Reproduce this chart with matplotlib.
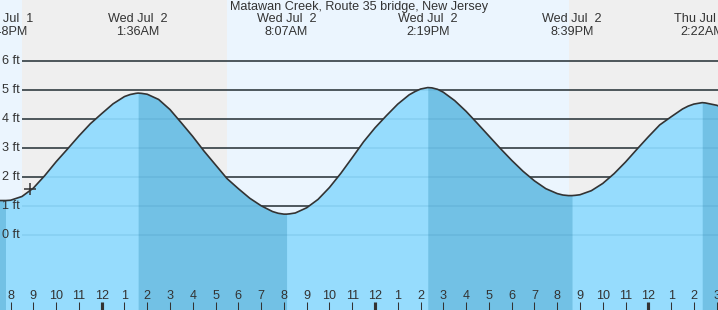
import matplotlib
matplotlib.use('Agg')
import matplotlib.pyplot as plt
import numpy as np

# hours from midnight Wed Jul 2, tide height in feet
hours = [-4.5, -4.2, -4.0, -3.5, -3.0, -2.5, -2.0, -1.5, -1.0, -0.5, 0.0, 0.5, 1.0, 1.25, 1.5, 1.6,
         1.75, 2.0, 2.5, 3.0, 3.5, 4.0, 4.5, 5.0, 5.5, 6.0, 6.5, 7.0, 7.5, 7.75, 8.0, 8.117,
         8.25, 8.5, 9.0, 9.5, 10.0, 10.5, 11.0, 11.5, 12.0, 12.5, 13.0, 13.5, 13.75, 14.0, 14.317,
         14.5, 14.75, 15.0, 15.5, 16.0, 16.5, 17.0, 17.5, 18.0, 18.5, 19.0, 19.5, 20.0, 20.25, 20.5, 20.65,
         20.8, 21.0, 21.5, 22.0, 22.5, 23.0, 23.5, 24.0, 24.5, 25.0, 25.5, 25.75, 26.0, 26.367,
         26.5, 27.0, 27.1]
height = [1.19, 1.19, 1.20, 1.33, 1.62, 2.05, 2.53, 2.97, 3.42, 3.84, 4.19, 4.53, 4.78, 4.85, 4.89, 4.90,
          4.89, 4.86, 4.68, 4.33, 3.87, 3.40, 2.89, 2.42, 1.95, 1.60, 1.27, 1.01, 0.81, 0.75, 0.72, 0.72,
          0.73, 0.76, 0.94, 1.23, 1.64, 2.13, 2.67, 3.22, 3.70, 4.12, 4.52, 4.84, 4.95, 5.04, 5.09,
          5.08, 5.03, 4.93, 4.64, 4.27, 3.85, 3.42, 2.99, 2.58, 2.20, 1.87, 1.60, 1.43, 1.38, 1.36, 1.36,
          1.37, 1.39, 1.53, 1.78, 2.12, 2.52, 2.96, 3.39, 3.80, 4.08, 4.35, 4.45, 4.52, 4.57,
          4.56, 4.48, 4.45]

# high / low tides
ext_hours = [-4.2, 1.6, 8.117, 14.317, 20.65, 26.367]
ext_days = ['Tue Jul  1', 'Wed Jul  2', 'Wed Jul  2', 'Wed Jul  2', 'Wed Jul  2', 'Thu Jul  3']
ext_times = ['7:48PM', '1:36AM', '8:07AM', '2:19PM', '8:39PM', '2:22AM']

# falling tide periods (darker water)
falling = [(-4.6, -4.2), (1.6, 8.117), (14.317, 20.65), (26.367, 27.2)]

# night periods
nights = [(-3.5, 5.5), (20.52, 27.2)]

tick_hours = list(range(-4, 28))
tick_labels = ['8', '9', '10', '11', '12', '1', '2', '3', '4', '5', '6', '7', '8', '9', '10', '11',
               '12', '1', '2', '3', '4', '5', '6', '7', '8', '9', '10', '11', '12', '1', '2', '3']

ft_levels = [0, 1, 2, 3, 4, 5, 6]

now_hour = -3.15
now_height = 1.59

title = 'Matawan Creek, Route 35 bridge, New Jersey'

x0, x1 = -4.465, 27.06
y0, y1 = -2.59, 8.114
grid_start = -3.5

txt = '#333333'
fs = 9.1
plt.rcParams['font.family'] = ['Liberation Sans', 'DejaVu Sans']

fig = plt.figure(figsize=(7.18, 3.10), dpi=100)
ax = fig.add_axes([0, 0, 1, 1])
ax.set_xlim(x0, x1)
ax.set_ylim(y0, y1)
ax.axis('off')

ax.axvspan(x0, x1, color='#ebf5fe', zorder=0, lw=0)
for a, b in nights:
    ax.axvspan(a, b, color='#efefef', zorder=0.5, lw=0)

# grid lines (dark above water)
ax.hlines(ft_levels, grid_start, x1, color='#2a2a2a', lw=1.1, zorder=1)

t = np.array(hours)
h = np.array(height)
ax.fill_between(t, h, y0, color='#96dcfd', lw=0, zorder=2)
for a, b in falling:
    m = (t >= a) & (t <= b)
    ax.fill_between(t, h, y0, where=m, color='#72c1e5', lw=0, zorder=2.1)

# faint grid lines seen through the water
ax.hlines(ft_levels, grid_start, x1, color='#1a6f9a', lw=1.1, alpha=0.13, zorder=2.5)

ax.plot(t, h, color='#333333', lw=1.2, zorder=3)
ax.plot(now_hour, now_height, marker='+', ms=9, mew=1.1, color='#333333', zorder=4)

for lv in ft_levels:
    ax.text(-3.6, lv, f'{lv} ft', ha='right', va='center', fontsize=fs, color=txt, zorder=5)

for hr, d, tm in zip(ext_hours, ext_days, ext_times):
    ax.text(hr, 7.23, d + '\n' + tm, ha='center', va='center', fontsize=fs, color=txt,
            linespacing=1.12, zorder=5)

ax.text((x0 + x1) / 2, 7.86, title, ha='center', va='center', fontsize=fs, color=txt, zorder=5)

# hour ticks along the bottom
for hr, lab in zip(tick_hours, tick_labels):
    w = 3.0 if lab == '12' else 1.0
    ax.vlines(hr, y0, y0 + 0.28, color='#333333', lw=w * 0.75, zorder=5)
    ax.text(hr, y0 + 0.5, lab, ha='center', va='center', fontsize=fs, color=txt, zorder=5)

fig.savefig('out.png', dpi=100)
